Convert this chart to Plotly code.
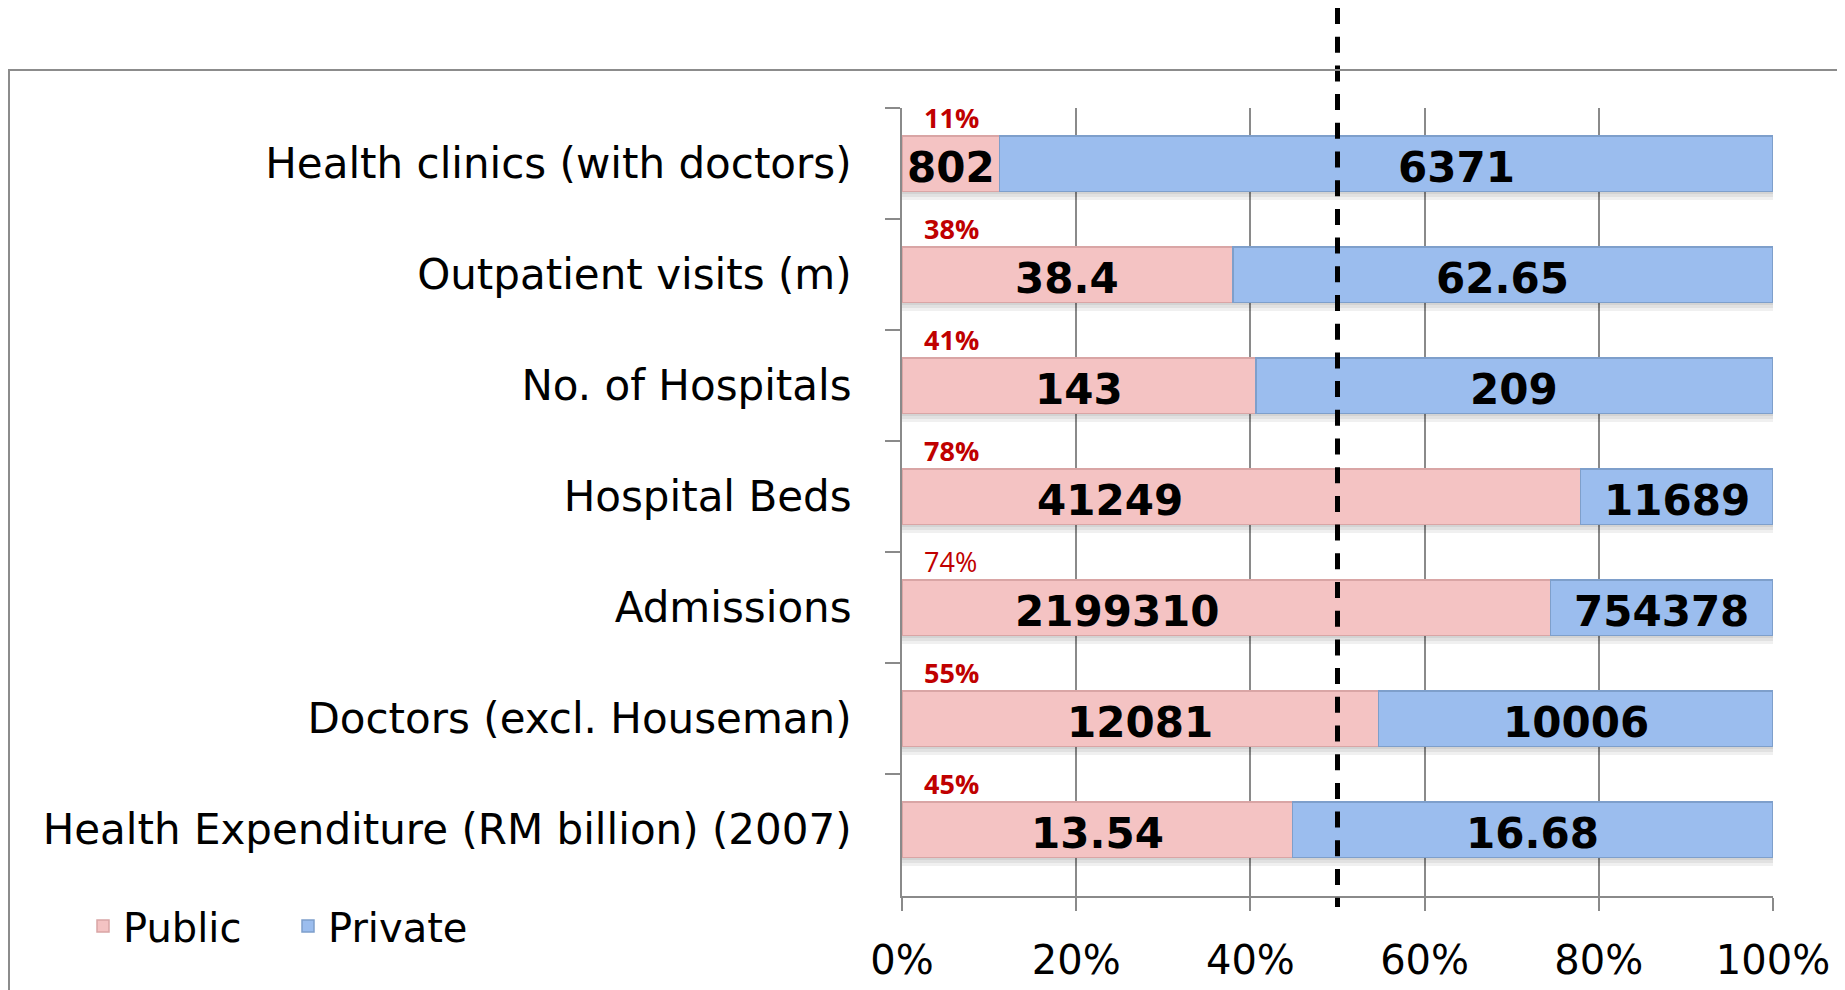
import plotly.graph_objects as go

# ---- data ----
categories = [
    "Health clinics (with doctors)",
    "Outpatient visits (m)",
    "No. of Hospitals",
    "Hospital Beds",
    "Admissions",
    "Doctors (excl. Houseman)",
    "Health Expenditure (RM billion) (2007)",
]
public_values = [802, 38.4, 143, 41249, 2199310, 12081, 13.54]
private_values = [6371, 62.65, 209, 11689, 754378, 10006, 16.68]
public_labels = ["802", "38.4", "143", "41249", "2199310", "12081", "13.54"]
private_labels = ["6371", "62.65", "209", "11689", "754378", "10006", "16.68"]
x_tick_vals = [0, 0.2, 0.4, 0.6, 0.8, 1.0]
x_tick_text = ["0%", "20%", "40%", "60%", "80%", "100%"]
reference_share = 0.5

# ---- styling / placement (not data) ----
pct_regular_weight = {"Admissions"}          # drawn in regular weight in the source
public_label_nudge_px = {"Hospital Beds": -131, "Admissions": -109}
private_label_nudge_px = {"Health clinics (with doctors)": 70}

PAGE_OFFSET = 8                      # default body margin of the html page
W, H = 1845 - PAGE_OFFSET, 990 - PAGE_OFFSET
# plot area in screen pixels: x 902..1773, y 108..896
L = 902 - PAGE_OFFSET
R = W - (1773 - PAGE_OFFSET)
T = 108 - PAGE_OFFSET
B = H - (896 - PAGE_OFFSET)
PW, PH = W - L - R, H - T - B
BAND_PX = PH / len(categories)
BAR_WIDTH = 0.5
SHADOW_SHIFTS_PX = (3, 6, 9)


def px_to_paper_x(sx):
    return (sx - PAGE_OFFSET - L) / PW


def px_to_paper_y(sy):
    return (H - B - (sy - PAGE_OFFSET)) / PH


PINK = "#F4C3C3"
PINK_EDGE = "#D9A5A5"
BLUE = "#9BBDEE"
BLUE_EDGE = "#7E9FCB"
GRID = "#8A8A8A"
CAT_FONT = "DejaVu Sans, Verdana, sans-serif"
PCT_FONT = "Open Sans, sans-serif"
VAL_FONT = dict(family="DejaVu Sans, Verdana, sans-serif", size=42, color="black")

fig = go.Figure()

# soft drop shadow under each bar: one layer per overlaid axis so they don't stack
totals = [pu + pr for pu, pr in zip(public_values, private_values)]
shadow_axes = ["y"] + ["y%d" % (i + 2) for i in range(len(SHADOW_SHIFTS_PX) - 1)]
for ax, shift_px in zip(shadow_axes, SHADOW_SHIFTS_PX):
    fig.add_trace(go.Bar(
        y=categories, x=totals, orientation="h", yaxis=ax,
        width=BAR_WIDTH, offset=-BAR_WIDTH / 2 + shift_px / BAND_PX,
        marker=dict(color="rgba(0,0,0,0.06)", line=dict(width=0)),
        showlegend=False, hoverinfo="skip",
    ))

main_axis = "y%d" % (len(SHADOW_SHIFTS_PX) + 1)
fig.add_trace(go.Bar(
    name="Public", y=categories, x=public_values, orientation="h", yaxis=main_axis,
    marker=dict(color=PINK, line=dict(color=PINK_EDGE, width=1.5)),
    hoverinfo="skip",
))
fig.add_trace(go.Bar(
    name="Private", y=categories, x=private_values, orientation="h", yaxis=main_axis,
    marker=dict(color=BLUE, line=dict(color=BLUE_EDGE, width=1.5)),
    hoverinfo="skip",
))

annotations = []
for cat, pu, pr, lp, lq in zip(categories, public_values, private_values,
                               public_labels, private_labels):
    share = pu / (pu + pr)
    # percentage label above the public bar
    txt = "%d%%" % round(100 * share)
    if cat not in pct_regular_weight:
        txt = "<b>%s</b>" % txt
    annotations.append(dict(
        x=0, y=cat, xref="x", yref="y", text=txt, showarrow=False,
        xanchor="left", yanchor="middle", xshift=20, yshift=46,
        font=dict(family=PCT_FONT, size=27, color="#C00000"),
    ))
    # value labels inside the segments
    annotations.append(dict(
        x=share / 2, y=cat, xref="x", yref="y", text="<b>%s</b>" % lp,
        showarrow=False, xanchor="center", yanchor="middle",
        xshift=public_label_nudge_px.get(cat, 0), yshift=-4, font=VAL_FONT,
    ))
    annotations.append(dict(
        x=(share + 1) / 2, y=cat, xref="x", yref="y", text="<b>%s</b>" % lq,
        showarrow=False, xanchor="center", yanchor="middle",
        xshift=private_label_nudge_px.get(cat, 0), yshift=-4, font=VAL_FONT,
    ))

shapes = [
    # dashed 50% reference line (drawn from the top down so the pattern starts at the top)
    dict(type="line", xref="x", yref="paper", x0=reference_share, x1=reference_share,
         y0=px_to_paper_y(PAGE_OFFSET), y1=px_to_paper_y(907),
         line=dict(color="black", width=5, dash="16px,12.7px")),
    # chart border (top + left, partially visible)
    dict(type="path", xref="paper", yref="paper",
         path="M %f,%f L %f,%f L %f,%f" % (
             px_to_paper_x(9), px_to_paper_y(1010),
             px_to_paper_x(9), px_to_paper_y(70),
             px_to_paper_x(1870), px_to_paper_y(70)),
         line=dict(color="#8C8C8C", width=2)),
]

fig.update_layout(
    width=W, height=H,
    margin=dict(l=L, r=R, t=T, b=B, pad=0, autoexpand=False),
    paper_bgcolor="white", plot_bgcolor="white",
    barmode="stack", barnorm="fraction", bargap=1 - BAR_WIDTH,
    font=dict(family=CAT_FONT, color="black"),
    showlegend=True,
    legend=dict(orientation="h", x=px_to_paper_x(83), xanchor="left",
                y=px_to_paper_y(926), yanchor="middle",
                entrywidth=160, entrywidthmode="pixels",
                font=dict(family=CAT_FONT, size=40, color="black"),
                bgcolor="rgba(0,0,0,0)", traceorder="normal"),
    annotations=annotations,
    shapes=shapes,
)
fig.update_xaxes(
    range=[0, 1], tickvals=x_tick_vals, ticktext=x_tick_text,
    showgrid=True, gridcolor=GRID, gridwidth=2,
    showline=True, linecolor=GRID, linewidth=2,
    ticks="outside", ticklen=13, tickwidth=2, tickcolor=GRID,
    tickfont=dict(family=CAT_FONT, size=40, color="black"),
    ticklabelstandoff=15, zeroline=False, fixedrange=True,
)
axes_cfg = dict(
    yaxis=dict(
        categoryorder="array", categoryarray=categories, autorange="reversed",
        showgrid=False, showline=True, linecolor=GRID, linewidth=2,
        ticks="outside", ticklen=15, tickwidth=2, tickcolor=GRID,
        tickson="boundaries",
        tickfont=dict(family=CAT_FONT, size=42, color="black"),
        ticklabelstandoff=40, fixedrange=True,
    ),
)
for ax in shadow_axes[1:] + [main_axis]:
    key = "yaxis" + ax[1:]
    axes_cfg[key] = dict(overlaying="y", matches="y", visible=False,
                         categoryorder="array", categoryarray=categories,
                         fixedrange=True)
fig.update_layout(**axes_cfg)

fig.write_html("out.html")
